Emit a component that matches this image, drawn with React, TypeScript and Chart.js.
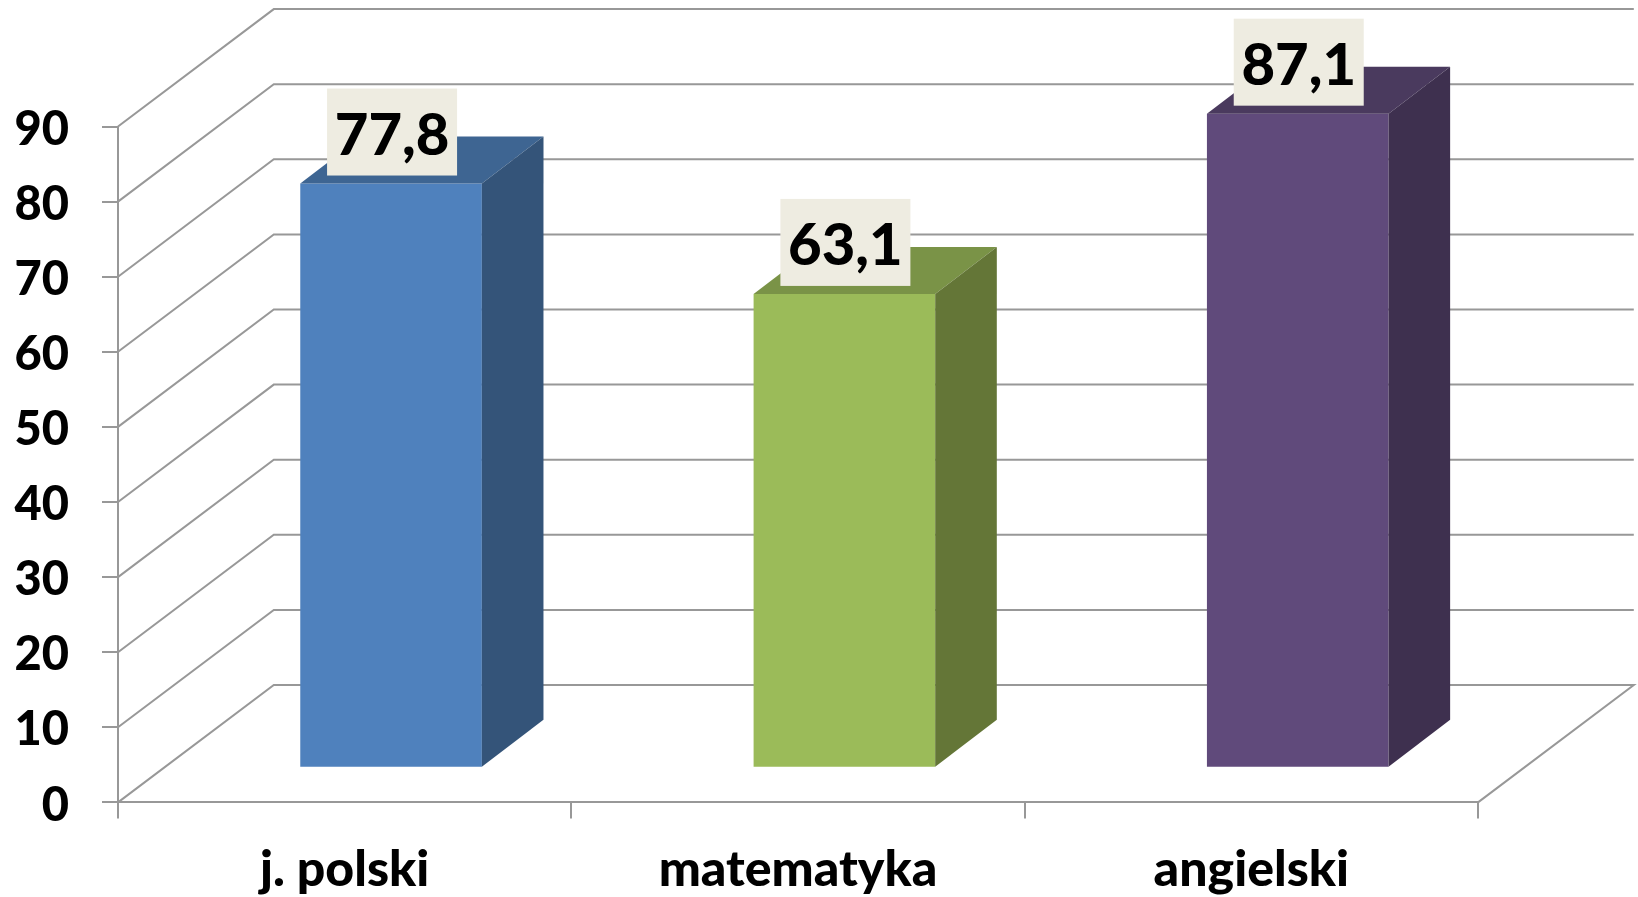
import React, { useEffect, useRef } from "react";
import { Chart, registerables } from "chart.js";

Chart.register(...registerables);

const categories = ["j. polski", "matematyka", "angielski"];
const values = [77.8, 63.1, 87.1];
const yTicks = [0, 90];
const frontColors = ["#4F81BD", "#9BBB59", "#604A7B"];
const topColors = ["#3E6592", "#7A9347", "#4A3A5E"];
const sideColors = ["#345479", "#647637", "#3E304F"];

const FONT = "Lato, Carlito, Calibri, sans-serif";
const GRID = "#989898";
const WALL = { dx: 155.8, dy: 117.4 };
const BAR_OFFSET = { dx: 46.4, dy: 34.6 };
const BAR_DEPTH = { dx: 61.6, dy: 47 };
const LABEL_BOX = { w: 130, h: 87, gap: 8 };
const Y_LABEL_SHIFT = 3;

const box3d = {
  id: "box3d",
  beforeDraw(chart: any) {
    const s = chart.scales.y;
    if (!s.__shifted) {
      s.__shifted = true;
      const orig = s.drawLabels.bind(s);
      s.drawLabels = (area: any) => {
        chart.ctx.save();
        chart.ctx.translate(0, Y_LABEL_SHIFT);
        orig(area);
        chart.ctx.restore();
      };
    }
  },
  beforeDatasetsDraw(chart: any) {
    const { ctx, scales, chartArea } = chart;
    const { left, right } = chartArea;
    const y = scales.y;
    ctx.save();
    ctx.strokeStyle = GRID;
    ctx.lineWidth = 2;
    y.ticks.forEach((t: any) => {
      const py = y.getPixelForValue(t.value);
      ctx.beginPath();
      ctx.moveTo(left, py);
      ctx.lineTo(left + WALL.dx, py - WALL.dy);
      ctx.lineTo(right + WALL.dx, py - WALL.dy);
      if (t.value === 0) {
        ctx.lineTo(right, py);
      }
      ctx.stroke();
    });
    ctx.restore();
  },
  beforeDatasetDraw(chart: any) {
    chart.ctx.save();
    chart.ctx.translate(BAR_OFFSET.dx, -BAR_OFFSET.dy);
  },
  afterDatasetDraw(chart: any, args: any) {
    const { ctx } = chart;
    const { dx, dy } = BAR_DEPTH;
    args.meta.data.forEach((bar: any, i: number) => {
      const l = bar.x - bar.width / 2;
      const r = bar.x + bar.width / 2;
      ctx.fillStyle = topColors[i];
      ctx.beginPath();
      ctx.moveTo(l, bar.y);
      ctx.lineTo(l + dx, bar.y - dy);
      ctx.lineTo(r + dx, bar.y - dy);
      ctx.lineTo(r, bar.y);
      ctx.closePath();
      ctx.fill();
      ctx.fillStyle = sideColors[i];
      ctx.beginPath();
      ctx.moveTo(r, bar.y);
      ctx.lineTo(r + dx, bar.y - dy);
      ctx.lineTo(r + dx, bar.base - dy);
      ctx.lineTo(r, bar.base);
      ctx.closePath();
      ctx.fill();
    });
    args.meta.data.forEach((bar: any, i: number) => {
      const bx = bar.x - LABEL_BOX.w / 2 + 1;
      const by = bar.y - LABEL_BOX.gap - LABEL_BOX.h;
      ctx.fillStyle = "#EEECE1";
      ctx.fillRect(bx, by, LABEL_BOX.w, LABEL_BOX.h);
      ctx.fillStyle = "#000000";
      ctx.font = `900 58px ${FONT}`;
      ctx.textAlign = "center";
      ctx.textBaseline = "middle";
      ctx.fillText(String(values[i]).replace(".", ","), bx + LABEL_BOX.w / 2, by + LABEL_BOX.h / 2 + 4);
    });
    ctx.restore();
  },
};

export default function App() {
  const ref = useRef<HTMLCanvasElement | null>(null);
  useEffect(() => {
    const chart = new Chart(ref.current as HTMLCanvasElement, {
      type: "bar",
      data: {
        labels: categories,
        datasets: [
          {
            data: values,
            backgroundColor: frontColors,
            borderWidth: 0,
            barPercentage: 0.4006,
            categoryPercentage: 1,
            clip: false,
          } as any,
        ],
      },
      options: {
        responsive: false,
        animation: false,
        layout: { padding: { top: 126.5, right: 160, left: 0, bottom: 0 } },
        plugins: { legend: { display: false }, tooltip: { enabled: false } },
        scales: {
          x: {
            afterFit: (s: any) => {
              s.height = 94.6;
            },
            grid: { drawOnChartArea: false, color: GRID, lineWidth: 2, tickLength: 16, offset: true },
            border: { color: GRID, width: 2 },
            ticks: {
              color: "#000000",
              padding: 21,
              maxRotation: 0,
              font: { family: FONT, size: 50, weight: "900" },
            },
          },
          y: {
            min: yTicks[0],
            max: yTicks[1],
            afterFit: (s: any) => {
              s.width = 118;
            },
            grid: { drawOnChartArea: false, color: GRID, lineWidth: 2, tickLength: 16 },
            border: { color: GRID, width: 2 },
            ticks: {
              stepSize: 10,
              color: "#000000",
              padding: 33,
              font: { family: FONT, size: 47, weight: "900" },
            },
          },
        },
      },
      plugins: [box3d],
    } as any);
    return () => chart.destroy();
  }, []);
  return (
    <div style={{ position: "absolute", left: 0, top: 0, width: 1638, height: 897, background: "#fff" }}>
      <canvas ref={ref} width={1638} height={897} style={{ display: "block" }} />
    </div>
  );
}
